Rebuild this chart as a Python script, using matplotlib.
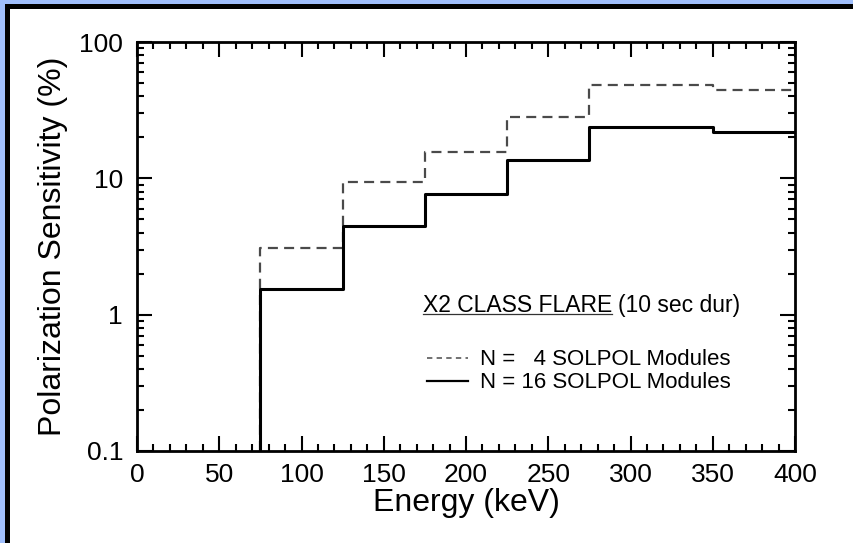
import matplotlib
matplotlib.use('Agg')
import matplotlib.pyplot as plt
import matplotlib.ticker as ticker
from matplotlib.patches import Rectangle
from matplotlib.lines import Line2D

plt.rcParams['font.family'] = ['Liberation Sans', 'DejaVu Sans']

# bin edges (keV) and sensitivities (%)
edges = [75, 125, 175, 225, 275, 350, 400]
sens_n4 = [3.1, 9.4, 15.6, 28, 48, 44.5]
sens_n16 = [1.54, 4.5, 7.7, 13.7, 23.8, 22]
y_floor = 0.1
labels = ['N =   4 SOLPOL Modules', 'N = 16 SOLPOL Modules']

W, H = 854, 543
fig = plt.figure(figsize=(W / 100, H / 100), dpi=100)
fig.patch.set_facecolor('#a0bffc')
# black frame + white page
fig.patches.append(Rectangle((5 / W, 0), 1, (H - 4) / H, transform=fig.transFigure,
                             facecolor='black', edgecolor='none', zorder=-2))
fig.patches.append(Rectangle((10 / W, 0), 1, (H - 9) / H, transform=fig.transFigure,
                             facecolor='white', edgecolor='none', zorder=-1))

ax = fig.add_axes([137 / W, (H - 451) / H, (795 - 137) / W, (451 - 42) / H])


def step_xy(vals):
    xs = [edges[0]]
    ys = [y_floor]
    for i, v in enumerate(vals):
        xs += [edges[i], edges[i + 1]]
        ys += [v, v]
    return xs, ys


x4, y4 = step_xy(sens_n4)
x16, y16 = step_xy(sens_n16)
ax.plot(x4, y4, color='#4a4a4a', lw=1.6, ls=(0, (4.5, 2.8)))
ax.plot(x16, y16, color='black', lw=2.2)

ax.set_yscale('log')
ax.set_xlim(0, 400)
ax.set_ylim(0.1, 100)
ax.xaxis.set_major_locator(ticker.MultipleLocator(50))
ax.xaxis.set_minor_locator(ticker.MultipleLocator(10))
ax.yaxis.set_major_locator(ticker.FixedLocator([0.1, 1, 10, 100]))
ax.yaxis.set_minor_locator(ticker.LogLocator(subs=range(2, 10)))
ax.yaxis.set_major_formatter(ticker.FuncFormatter(lambda v, p: '%g' % v))
ax.yaxis.set_minor_formatter(ticker.NullFormatter())

ax.tick_params(which='both', direction='in', top=True, right=True, labelsize=19, width=1.5)
ax.tick_params(which='major', length=11)
ax.tick_params(which='minor', length=5)
ax.tick_params(axis='x', pad=8.5)
ax.tick_params(axis='y', pad=10)
for s in ax.spines.values():
    s.set_linewidth(2)

ax.set_xlabel('Energy (keV)', fontsize=23, labelpad=1)
ax.set_ylabel('Polarization Sensitivity (%)', fontsize=23, labelpad=8)

# annotation block (display pixel coords, y measured from bottom)
fs = 16
t1 = ax.text(423, H - 312, 'X2 CLASS FLARE', transform=None, fontsize=16.5, va='baseline')
fig.canvas.draw()
r = fig.canvas.get_renderer()
bb = t1.get_window_extent(r)
ax.text(bb.x1 + 6, H - 312, '(10 sec dur)', transform=None, fontsize=16.5, va='baseline')
fig.lines.append(Line2D([bb.x0 / W, bb.x1 / W], [(H - 314) / H] * 2,
                        transform=fig.transFigure, color='#333333', lw=0.9))

# legend rows drawn by hand to get the tight spacing
rows = [(358, dict(color='#4a4a4a', lw=1.1, ls=(0, (3.5, 2.8)))),
        (381, dict(color='black', lw=1.6))]
for (yl, style), lab in zip(rows, labels):
    fig.lines.append(Line2D([427 / W, 468 / W], [(H - yl) / H] * 2,
                            transform=fig.transFigure, **style))
    fig.text(480 / W, (H - yl - 7) / H, lab, fontsize=fs, va='baseline')

fig.savefig('out.png', dpi=100, facecolor=fig.get_facecolor())
